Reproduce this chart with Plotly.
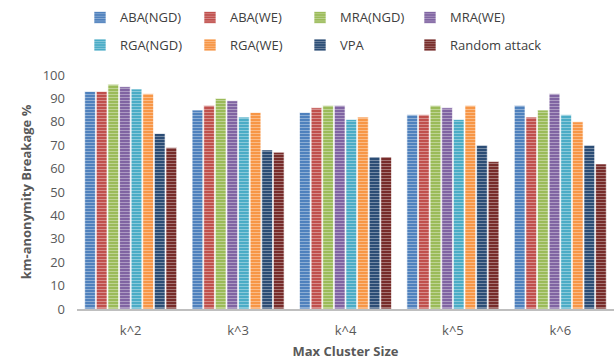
import plotly.graph_objects as go

categories = ["k^2", "k^3", "k^4", "k^5", "k^6"]
series_names = ["ABA(NGD)", "ABA(WE)", "MRA(NGD)", "MRA(WE)",
                "RGA(NGD)", "RGA(WE)", "VPA", "Random attack"]
aba_ngd = [93, 85, 84, 83, 87]
aba_we = [93, 87, 86, 83, 82]
mra_ngd = [96, 90, 87, 87, 85]
mra_we = [95, 89, 87, 86, 92]
rga_ngd = [94, 82, 81, 81, 83]
rga_we = [92, 84, 82, 87, 80]
vpa = [75, 68, 65, 70, 70]
random_attack = [69, 67, 65, 63, 62]
y_ticks = [0, 10, 20, 30, 40, 50, 60, 70, 80, 90, 100]

series_values = [aba_ngd, aba_we, mra_ngd, mra_we, rga_ngd, rga_we, vpa, random_attack]
colors = ["#4F81BD", "#C0504D", "#9BBB59", "#8064A2",
          "#4BACC6", "#F79646", "#2C4D75", "#772C2A"]

legend_x = [0.0056, 0.2104, 0.4153, 0.6201]
legend_y = [1.246, 1.128]

fig = go.Figure()
legend_layout = {}
for i, (name, vals, col) in enumerate(zip(series_names, series_values, colors)):
    key = "legend" if i == 0 else f"legend{i + 1}"
    fig.add_trace(go.Bar(
        x=categories, y=vals, name=name, legend=key,
        marker=dict(color=col,
                    line=dict(color="rgba(255,255,255,0.8)", width=0.8),
                    pattern=dict(shape="-", fgcolor="white", fgopacity=0.35,
                                 size=3, solidity=0.35, fillmode="overlay")),
    ))
    legend_layout[key] = dict(orientation="h", x=legend_x[i % 4], xanchor="left",
                              y=legend_y[i // 4], yanchor="middle",
                              font=dict(size=13, color="#404040"),
                              itemwidth=30, bgcolor="rgba(0,0,0,0)")

fig.update_layout(
    width=616, height=364,
    margin=dict(l=77, r=2, t=75, b=55),
    paper_bgcolor="white", plot_bgcolor="white",
    barmode="group", bargap=0.135, bargroupgap=0.08,
    font=dict(family="Open Sans, Liberation Sans, sans-serif", size=13, color="#595959"),
    showlegend=True,
    xaxis=dict(showgrid=False, showline=True, linecolor="#BFBFBF", linewidth=2,
               ticks="", tickfont=dict(size=13, color="#595959"), ticklabelstandoff=8,
               title=dict(text="<b>Max Cluster Size</b>", font=dict(size=13, color="#595959"),
                          standoff=9),
               range=[-0.5, 4.5], automargin=False),
    yaxis=dict(range=[0, 100], tickvals=y_ticks, showgrid=False, zeroline=False,
               showline=False, ticks="", tickfont=dict(size=13, color="#595959"),
               ticklabelstandoff=11,
               title=dict(text="<b>km-anonymity Breakage %</b>", font=dict(size=13, color="#595959"),
                          standoff=8),
               automargin=False),
    **legend_layout,
)

fig.write_html("out.html", config={"displayModeBar": False},
               post_script="document.body.style.margin='0';")
